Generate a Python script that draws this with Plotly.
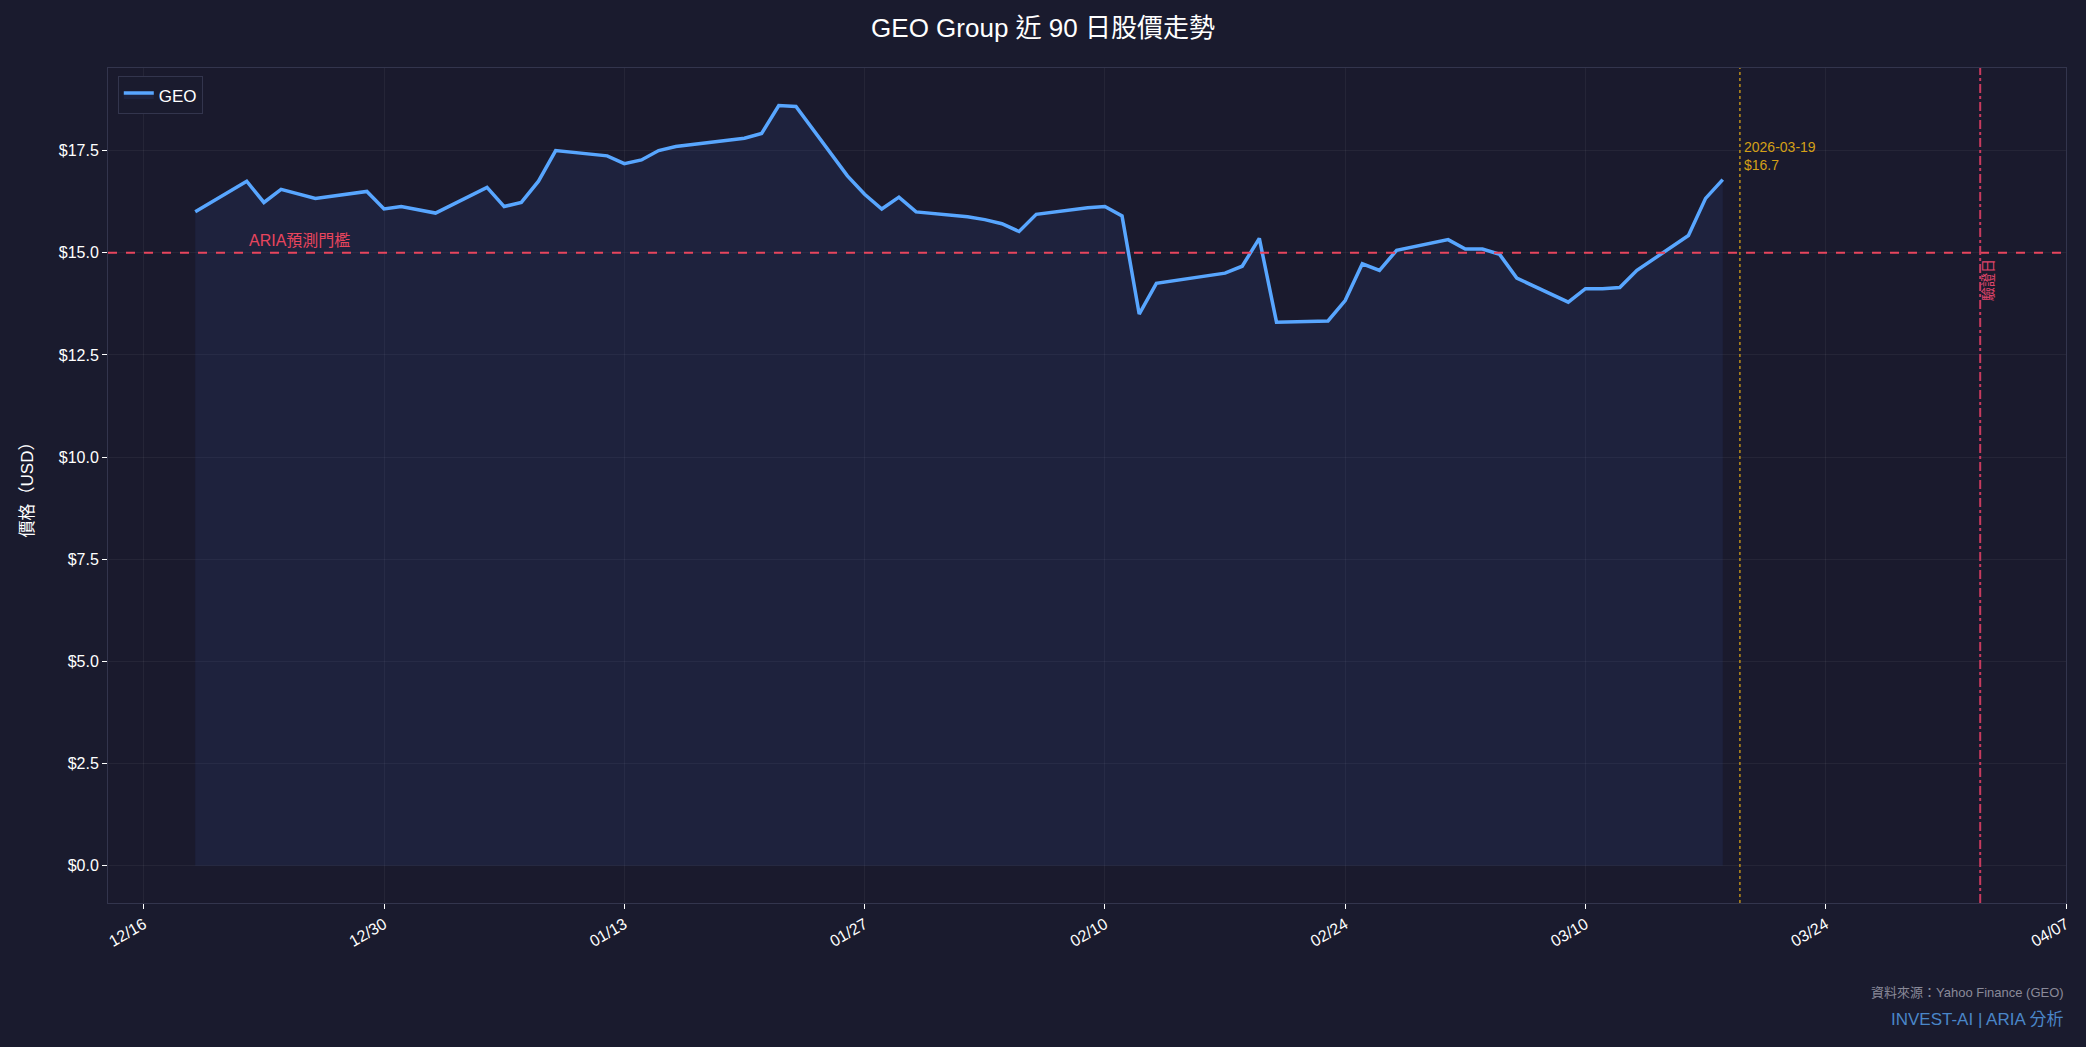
import plotly.graph_objects as go

dates = ["2025-12-19","2025-12-22","2025-12-23","2025-12-24","2025-12-26","2025-12-29","2025-12-30","2025-12-31",
         "2026-01-02","2026-01-05","2026-01-06","2026-01-07","2026-01-08","2026-01-09","2026-01-12","2026-01-13",
         "2026-01-14","2026-01-15","2026-01-16","2026-01-20","2026-01-21","2026-01-22","2026-01-23","2026-01-26",
         "2026-01-27","2026-01-28","2026-01-29","2026-01-30","2026-02-02","2026-02-03","2026-02-04","2026-02-05",
         "2026-02-06","2026-02-09","2026-02-10","2026-02-11","2026-02-12","2026-02-13","2026-02-17","2026-02-18",
         "2026-02-19","2026-02-20","2026-02-23","2026-02-24","2026-02-25","2026-02-26","2026-02-27","2026-03-02",
         "2026-03-03","2026-03-04","2026-03-05","2026-03-06","2026-03-09","2026-03-10","2026-03-11","2026-03-12",
         "2026-03-13","2026-03-16","2026-03-17","2026-03-18"]
prices = [16.0,16.75,16.23,16.55,16.33,16.5,16.07,16.13,
          15.97,16.6,16.13,16.23,16.75,17.5,17.37,17.18,
          17.27,17.5,17.6,17.8,17.92,18.6,18.58,16.88,
          16.43,16.07,16.36,16.0,15.88,15.81,15.71,15.52,
          15.94,16.1,16.13,15.9,13.5,14.25,14.5,14.67,
          15.35,13.3,13.33,13.83,14.73,14.57,15.06,15.32,
          15.09,15.09,14.96,14.38,13.79,14.12,14.12,14.15,
          14.57,15.42,16.33,16.79]
threshold = 15.0
last_date_label = "2026-03-19"
last_price_label = "$16.7"
verify_date = "2026-04-02"
tick_vals = ["2025-12-16","2025-12-30","2026-01-13","2026-01-27","2026-02-10","2026-02-24","2026-03-10","2026-03-24","2026-04-07"]
tick_text = ["12/16","12/30","01/13","01/27","02/10","02/24","03/10","03/24","04/07"]
y_ticks = [0,2.5,5,7.5,10,12.5,15,17.5]

BG = "#1a1b2e"
font = "Liberation Sans, Noto Sans CJK TC, sans-serif"
fig = go.Figure()
fig.add_trace(go.Scatter(x=dates, y=prices, mode="lines", name="GEO",
                         line=dict(color="#58a6ff", width=3.5),
                         fill="tozeroy", fillcolor="rgba(50,70,140,0.18)"))
fig.add_hline(y=threshold, line=dict(color="#e8455d", width=2.2, dash="dash"))
fig.add_vline(x=last_date_label, line=dict(color="#d4a017", width=1.3, dash="dot"))
fig.add_vline(x=verify_date, line=dict(color="#c83a5e", width=2, dash="dashdot"))
fig.add_annotation(x="2025-12-22", y=threshold, text="ARIA預測門檻", showarrow=False,
                   xanchor="left", yanchor="bottom", yshift=2, font=dict(color="#e8455d", size=16))
fig.add_annotation(x=last_date_label, y=16.9, text=last_date_label+"<br>"+last_price_label, showarrow=False,
                   xanchor="left", yanchor="bottom", xshift=2, align="left",
                   font=dict(color="#d4a017", size=14))
fig.add_annotation(x=verify_date, y=14.9, text="驗證日", showarrow=False, textangle=-90,
                   xanchor="left", yanchor="top", xshift=-2, font=dict(color="#e0456a", size=14))
fig.add_annotation(x=1, y=-0.107, xref="paper", yref="paper", text="資料來源：Yahoo Finance (GEO)",
                   showarrow=False, xanchor="right", yanchor="middle", font=dict(color="#8a8a99", size=13))
fig.add_annotation(x=1, y=-0.14, xref="paper", yref="paper", text="INVEST-AI | ARIA 分析",
                   showarrow=False, xanchor="right", yanchor="middle", font=dict(color="#4a86c8", size=17))
fig.update_layout(
    width=2086, height=1047, paper_bgcolor=BG, plot_bgcolor="#1a1a2d",
    font=dict(family=font, color="white", size=16),
    title=dict(text="GEO Group 近 90 日股價走勢", x=0.5, y=0.973, yanchor="middle", font=dict(size=26)),
    margin=dict(l=108, r=20, t=68, b=144),
    legend=dict(x=0.005, y=0.99, bgcolor=BG, bordercolor="#33354d", borderwidth=1, font=dict(size=17)),
    showlegend=True,
)
fig.update_xaxes(range=["2025-12-13 22:00","2026-04-07"], tickvals=tick_vals, ticktext=tick_text,
                 tickangle=-30, showgrid=True, gridcolor="rgba(255,255,255,0.05)", ticks="outside",
                 tickcolor="white", showline=True, linecolor="#33354d", mirror=True, zeroline=False)
fig.update_yaxes(range=[-0.91,19.52], tickvals=y_ticks, ticktext=[f"${v:.1f}" for v in y_ticks],
                 showgrid=True, gridcolor="rgba(255,255,255,0.05)", ticks="outside", tickcolor="white",
                 showline=True, linecolor="#33354d", mirror=True, zeroline=False,
                 title=dict(text="價格（USD）", font=dict(size=17), standoff=20))
fig.write_html("out.html", config={"displayModeBar": False},
               post_script="document.body.style.margin='0';document.body.style.overflow='hidden';document.body.style.background='#1a1b2e';")
